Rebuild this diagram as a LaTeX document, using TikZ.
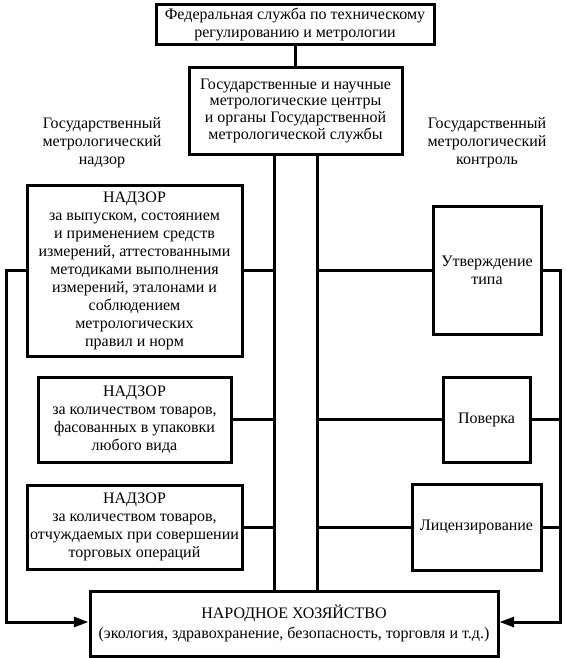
\documentclass[tikz,border=0pt]{standalone}
\usepackage{fontspec}
\setmainfont{Liberation Serif}
\usetikzlibrary{arrows.meta}
\begin{document}
\begin{tikzpicture}[x=0.75pt,y=-0.75pt,
  line width=2.25pt,
  box/.style={draw, align=center, inner sep=0pt, font=\fontsize{12}{13.5}\selectfont},
  lbl/.style={align=center, inner sep=0pt, font=\fontsize{12}{13.5}\selectfont},
  sz/.style 2 args={minimum width=#1*0.75pt, minimum height=#2*0.75pt},
  arr/.style={-{Triangle[length=11pt,width=7.5pt]}}
]
\useasboundingbox (0,0) rectangle (567,658);
\coordinate (vL) at (274,0);
\coordinate (vR) at (317,0);
\coordinate (eL) at (6,0);
\coordinate (eR) at (560,0);
\coordinate (ay) at (0,622);

\node[box, sz={278}{40}] (fed) at (295,24) {Федеральная служба по техническому\\регулированию и метрологии};
\node[box, sz={213}{87}, font=\fontsize{12}{12.5}\selectfont] (centr) at (295.5,110.5) {Государственные и научные\\метрологические центры\\и органы Государственной\\метрологической службы};

\node[lbl] (labL) at (102,143) {Государственный\\метрологический\\надзор};
\node[lbl] (labR) at (487,143) {Государственный\\метрологический\\контроль};

\node[box, sz={215}{171}] (n1) at (134.5,270.5) {НАДЗОР\\за выпуском, состоянием\\и применением средств\\измерений, аттестованными\\методиками выполнения\\измерений, эталонами и\\соблюдением\\метрологических\\правил и норм};
\node[box, sz={193}{85}] (n2) at (134.5,419.5) {НАДЗОР\\за количеством товаров,\\фасованных в упаковки\\любого вида};
\node[box, sz={215}{84}] (n3) at (134.5,527) {НАДЗОР\\за количеством товаров,\\отчуждаемых при совершении\\торговых операций};

\node[box, sz={108}{128}] (r1) at (487,270) {Утверждение\\типа};
\node[box, sz={87}{85}] (r2) at (486.5,419.5) {Поверка};
\node[box, sz={129}{86}] (r3) at (476.5,527) {Лицензирование};

\node[box, sz={408}{65}, font=\fontsize{12}{15}\selectfont] (bot) at (294,623.5) {НАРОДНОЕ ХОЗЯЙСТВО\\(экология, здравохранение, безопасность, торговля и т.д.)};

% top link
\draw (fed.south) -- (fed.south |- centr.north);
% two trunks
\draw (centr.south -| vL) -- (bot.north -| vL);
\draw (centr.south -| vR) -- (bot.north -| vR);
% left branches
\draw (n1.east) -- (n1.east -| vL);
\draw (n2.east) -- (n2.east -| vL);
\draw (n3.east) -- (n3.east -| vL);
% right branches
\draw (r1.west) -- (r1.west -| vR);
\draw (r2.west) -- (r2.west -| vR);
\draw (r3.west) -- (r3.west -| vR);
\draw (r2.east) -- (r2.east -| eR);
\draw (r3.east) -- (r3.east -| eR);
% outer loops with arrows
\draw[arr] (n1.west) -- (n1.west -| eL) -- (eL |- ay) -- (bot.west |- ay);
\draw[arr] (r1.east) -- (r1.east -| eR) -- (eR |- ay) -- (bot.east |- ay);
\end{tikzpicture}
\end{document}
